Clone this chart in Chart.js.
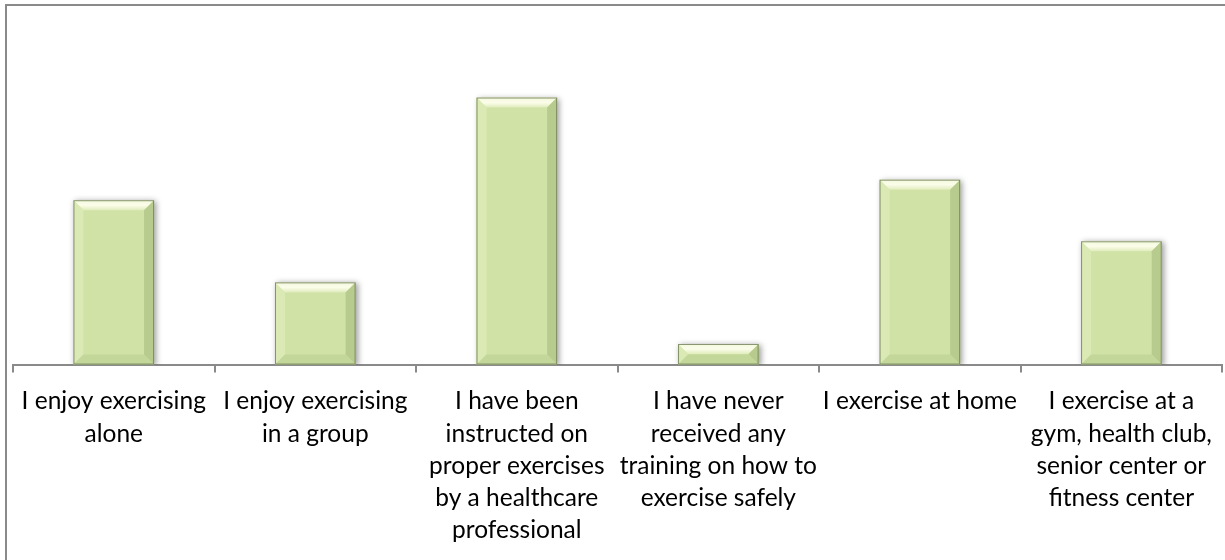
<!DOCTYPE html>
<html>
<head>
<meta charset="utf-8">
<script src="https://cdn.jsdelivr.net/npm/chart.js@4/dist/chart.umd.min.js"></script>
<style>
html, body { margin: 0; padding: 0; background: #fff; overflow: hidden; }
#wrap { position: relative; width: 1225px; height: 560px; overflow: hidden; }
#frame { position: absolute; left: 5px; top: 4px; width: 1300px; height: 700px; border: 2px solid #8a8a8a; box-sizing: border-box; }
#chart { position: absolute; left: 0; top: 0; }
</style>
</head>
<body>
<div id="wrap">
  <div id="frame"></div>
  <canvas id="chart" width="1225" height="560"></canvas>
</div>
<script>
const categories = [
    ['I enjoy exercising', 'alone'],
    ['I enjoy exercising', 'in a group'],
    ['I have been', 'instructed on', 'proper exercises', 'by a healthcare', 'professional'],
    ['I have never', 'received any', 'training on how to', 'exercise safely'],
    ['I exercise at home'],
    ['I exercise at a', 'gym, health club,', 'senior center or', 'fitness center']
]
const responses = [8, 4, 13, 1, 9, 6]
const yMax = 14

const axisGrey = '#8a8a8a'
const barGreen = '#d0e2a5'

// soft drop shadow under the bars, then a bevel drawn on top of each bar
const bevelBars = {
    id: 'bevelBars',
    beforeDatasetsDraw(chart) {
        const ctx = chart.ctx
        ctx.save()
        ctx.shadowColor = 'rgba(0, 0, 0, 0.4)'
        ctx.shadowBlur = 6
        ctx.shadowOffsetX = 2
        ctx.shadowOffsetY = 1
    },
    afterDatasetsDraw(chart) {
        const ctx = chart.ctx
        ctx.restore()
        const meta = chart.getDatasetMeta(0)
        meta.data.forEach(bar => {
            const { x, y, base, width } = bar.getProps(['x', 'y', 'base', 'width'], true)
            const left = x - width / 2
            const right = x + width / 2
            const top = Math.min(y, base)
            const bottom = Math.max(y, base)
            const b = Math.min(10, (bottom - top) / 2)

            ctx.save()
            // top bevel
            const g = ctx.createLinearGradient(0, top, 0, top + b)
            g.addColorStop(0, '#f4f9dd')
            g.addColorStop(0.5, '#fbfde9')
            g.addColorStop(1, '#e0ecbd')
            ctx.fillStyle = g
            ctx.beginPath()
            ctx.moveTo(left, top)
            ctx.lineTo(right, top)
            ctx.lineTo(right - b, top + b)
            ctx.lineTo(left + b, top + b)
            ctx.closePath()
            ctx.fill()
            // left bevel
            ctx.fillStyle = '#dbeab5'
            ctx.beginPath()
            ctx.moveTo(left, top)
            ctx.lineTo(left + b, top + b)
            ctx.lineTo(left + b, bottom - b)
            ctx.lineTo(left, bottom)
            ctx.closePath()
            ctx.fill()
            // right bevel
            ctx.fillStyle = '#b8cb8e'
            ctx.beginPath()
            ctx.moveTo(right, top)
            ctx.lineTo(right, bottom)
            ctx.lineTo(right - b, bottom - b)
            ctx.lineTo(right - b, top + b)
            ctx.closePath()
            ctx.fill()
            // bottom bevel
            ctx.fillStyle = '#c4d79a'
            ctx.beginPath()
            ctx.moveTo(left, bottom)
            ctx.lineTo(right, bottom)
            ctx.lineTo(right - b, bottom - b)
            ctx.lineTo(left + b, bottom - b)
            ctx.closePath()
            ctx.fill()
            // outline
            ctx.strokeStyle = 'rgba(110, 125, 85, 0.8)'
            ctx.lineWidth = 1
            ctx.strokeRect(left + 0.5, top + 0.5, width - 1, bottom - top - 1)
            ctx.restore()
        })
    }
}

new Chart(document.getElementById('chart'), {
    type: 'bar',
    data: {
        labels: categories,
        datasets: [{
            data: responses,
            backgroundColor: barGreen,
            borderWidth: 0,
            barPercentage: 0.4,
            categoryPercentage: 1
        }]
    },
    options: {
        responsive: false,
        animation: false,
        events: [],
        layout: { padding: { left: 13, right: 1, top: 77, bottom: 1 } },
        plugins: {
            legend: { display: false },
            tooltip: { enabled: false }
        },
        scales: {
            x: {
                grid: {
                    display: true,
                    drawOnChartArea: false,
                    drawTicks: true,
                    tickLength: 8,
                    color: axisGrey,
                    lineWidth: 2,
                    offset: true
                },
                border: { display: true, color: axisGrey, width: 2 },
                ticks: {
                    color: '#000',
                    font: { family: 'Lato', size: 24.5, lineHeight: 1.31 },
                    padding: 13,
                    maxRotation: 0,
                    autoSkip: false
                }
            },
            y: {
                display: false,
                min: 0,
                max: yMax
            }
        }
    },
    plugins: [bevelBars]
})
</script>
</body>
</html>
